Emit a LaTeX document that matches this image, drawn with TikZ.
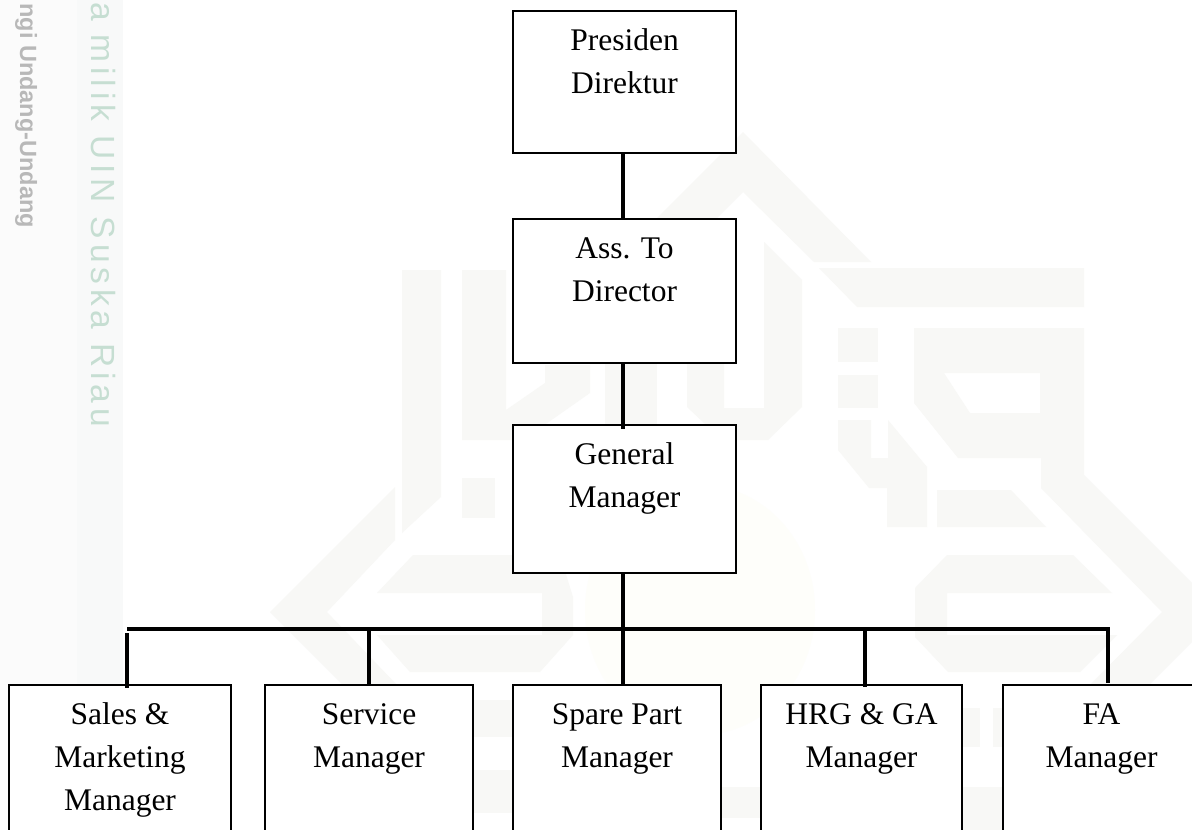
\documentclass[tikz,border=0pt]{standalone}
\usepackage{fontspec}
\setmainfont{Liberation Serif}
\newfontfamily\wmfont[LetterSpace=14.4]{Liberation Sans}
\newfontfamily\lawfont{Liberation Sans}
\definecolor{wmgray}{HTML}{F8F8F6}
\definecolor{wmband}{HTML}{F8F9F9}
\definecolor{wmside}{HTML}{FBFBFB}
\definecolor{wmgreen}{HTML}{C6DED2}
\definecolor{wmgold}{HTML}{FEFEFA}
\newcommand{\boxline}[1]{\rule{0pt}{39.5pt}#1}
\tikzset{
	orgbox/.style 2 args={draw,fill=white,line width=2pt,inner sep=0pt,outer sep=0pt,anchor=north west,
		align=center,minimum width=#1,font=\fontsize{31.5}{43}\selectfont,
		execute at end node={\rule[-#2pt]{0pt}{#2pt}}},
	conn/.style={line width=4pt},
	wm/.style={fill=wmgray,draw=none},
}
\begin{document}
\begin{tikzpicture}[x=1pt,y=-1pt]
	\clip[use as bounding box] (0,0) rectangle (1192,830);
	\fill[white] (0,0) rectangle (1192,830);
	% page watermark
	\fill[wmside] (0,0) rectangle (77,830);
	\fill[wmband] (77,0) rectangle (123,830);
	\node[rotate=-90,anchor=base east,inner sep=0pt,text=wmgreen,font=\wmfont\fontsize{33.5}{40}\selectfont] (wmark) at (91,427) {a milik UIN Suska Riau};
	\node[rotate=-90,anchor=base east,inner sep=0pt,text=black!28,font=\lawfont\bfseries\fontsize{23.5}{30}\selectfont] (law) at (20,228) {ngi Undang-Undang};
	\fill[wmgold] (700,610) ellipse (115 and 125);
	\fill[wm] (743,132)--(871,262)--(814,262)--(743,192)--(690,245)--(630,245)--cycle;
	\fill[wm] (819,268)--(1084,268)--(1084,307)--(857,307)--cycle;
	\fill[wm] (764,242)--(802,280)--(802,407)--(768,440)--(722,440)--(687,407)--(687,363)--(724,363)--(724,408)--(764,408)--cycle;
	\fill[wm] (838,328) rectangle (878,362);
	\fill[wm] (838,375) rectangle (878,408);
	\fill[wm] (838,420)--(871,420)--(871,458)--(888,458)--(888,420)--(927,467)--(927,527)--(887,527)--(887,488)--(869,488)--(838,450)--cycle;
	\fill[wm,even odd rule] (914,328)--(1084,328)--(1084,475)--(1192,583)--(1192,642)--(1149,685)--(1090,685)--(1162,612)--(1041,488)--(1041,458)--(958,458)--(914,403)--cycle
		(944,373)--(1040,373)--(1040,413)--(970,413)--cycle;
	\fill[wm] (937,490)--(1011,490)--(1046,527)--(937,527)--cycle;
	\fill[wm] (947,555)--(1073,555)--(1112,593)--(947,593)--(947,635)--(1117,635)--(1080,672)--(948,672)--(915,637)--(915,588)--cycle;
	\fill[wm] (963,708) rectangle (980,747);
	\fill[wm] (993,708) rectangle (1003,747);
	\fill[wm] (962,787) rectangle (1003,830);
	\fill[wm] (402,270)--(441,270)--(441,497)--(402,533)--cycle;
	\fill[wm] (462,270)--(506,270)--(506,410)--(545,383)--(545,365)--(590,365)--(590,393)--(523,440)--(462,440)--cycle;
	\fill[wm] (605,363) rectangle (657,425);
	\fill[wm] (462,478) rectangle (495,518);
	\fill[wm] (395,487)--(270,612)--(343,685)--(397,685)--(327,612)--(395,540)--cycle;
	\fill[wm] (413,555)--(560,555)--(573,597)--(573,635)--(540,672)--(410,672)--(377,635)--(542,635)--(542,593)--(377,593)--cycle;
	\fill[wm] (473,700) rectangle (513,737);
	\fill[wm] (473,770) rectangle (513,813);
	\fill[wm] (721,787) rectangle (761,818);
	% boxes
	\node[orgbox={223}{59.5}] (pres) at (513,11) {\boxline{Presiden}\\Direktur};
	\node[orgbox={223}{61.5}] (ass) at (513,219) {\boxline{Ass. To}\\Director};
	\node[orgbox={223}{65.5}] (gm) at (513,425) {\boxline{General}\\Manager};
	\node[orgbox={222}{32}] (sales) at (9,685) {\boxline{Sales \&}\\Marketing\\Manager};
	\node[orgbox={208}{75}] (service) at (265,685) {\boxline{Service}\\Manager};
	\node[orgbox={208}{75}] (spare) at (513,685) {\boxline{Spare Part}\\Manager};
	\node[orgbox={201}{75}] (hrg) at (761,685) {\boxline{HRG \& GA}\\Manager};
	\node[orgbox={197}{75}] (fa) at (1003,685) {\boxline{FA}\\Manager};
	% connectors
	\coordinate (trunk) at (623,629);
	\coordinate (busl) at (127,629);
	\coordinate (busr) at (1110,629);
	\coordinate (busb) at (369,629);
	\coordinate (busd) at (865,629);
	\coordinate (buse) at (1108,629);
	\draw[conn] (trunk |- pres.south) -- (trunk |- ass.north);
	\draw[conn,shorten >=-4pt] (trunk |- ass.south) -- (trunk |- gm.north);
	\draw[conn] (trunk |- gm.south) -- (trunk |- spare.north);
	\draw[conn] (busl) -- (busr);
	\draw[conn,shorten <=4pt,shorten >=-3pt] (busl) -- (busl |- sales.north);
	\draw[conn] (busb) -- (busb |- service.north);
	\draw[conn,shorten >=-2pt] (busd) -- (busd |- hrg.north);
	\draw[conn,shorten >=2pt] (buse) -- (buse |- fa.north);
\end{tikzpicture}
\end{document}
